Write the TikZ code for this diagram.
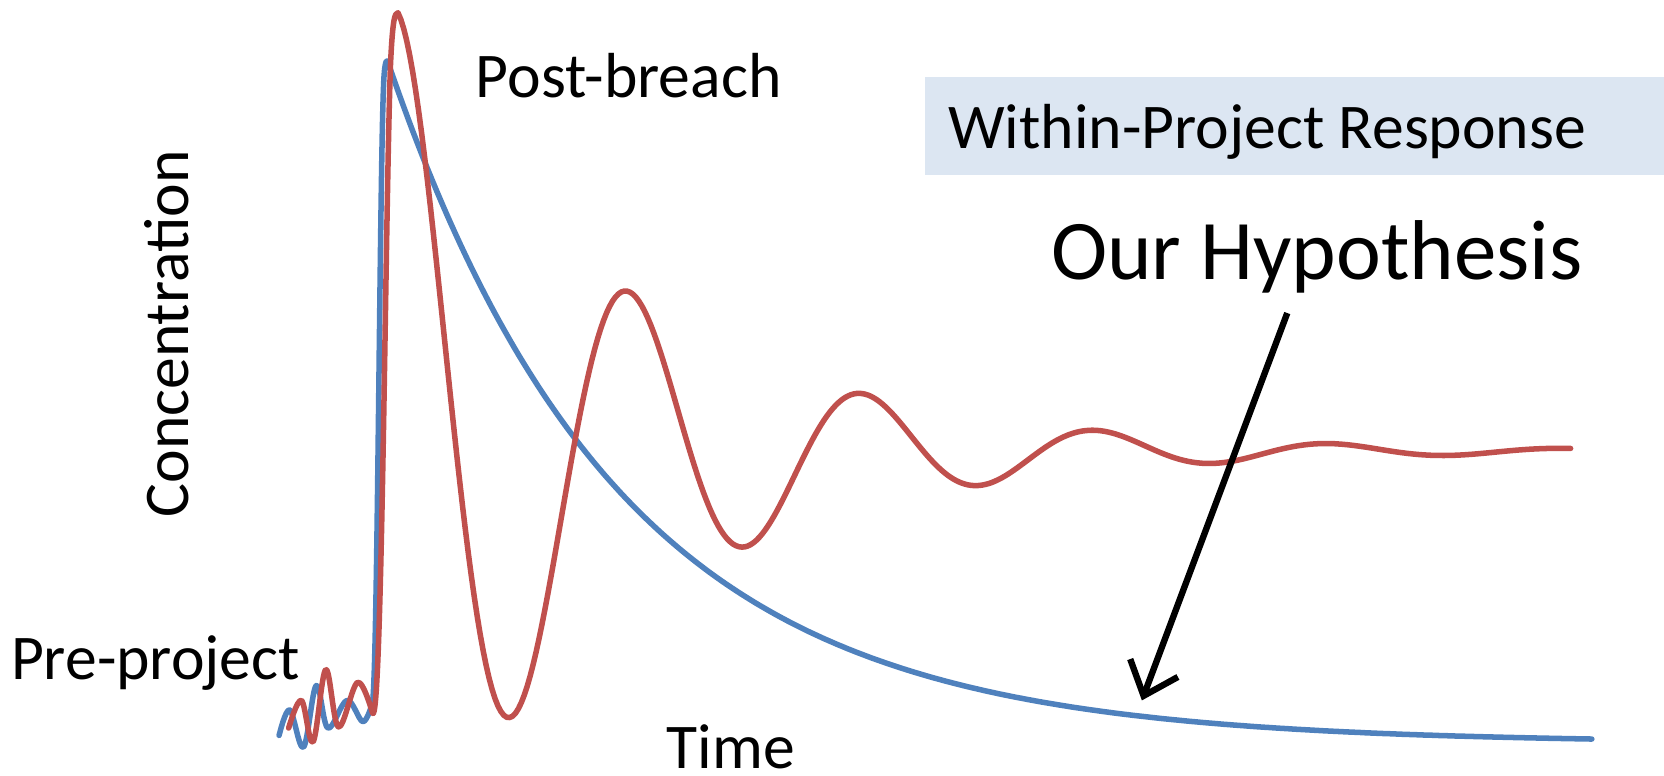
\documentclass[tikz,border=0pt]{standalone}
\usepackage{fontspec}
\setmainfont{Carlito}
\usetikzlibrary{arrows.meta}
\definecolor{curveblue}{HTML}{4F81BD}
\definecolor{curvered}{HTML}{C0504D}
\definecolor{boxblue}{HTML}{DCE6F2}
\tikzset{
  lbl/.style={font=\fontsize{30}{36}\selectfont, inner sep=0pt, anchor=base west},
  biglbl/.style={font=\fontsize{40}{48}\selectfont, inner sep=0pt, anchor=base west},
  curve/.style={line width=2.6pt, line join=round, line cap=round},
  hyparrow/.style={line width=3pt, -{Straight Barb[length=14pt, width=24pt, line width=3pt]}},
}
\begin{document}
\begin{tikzpicture}[x=0.5pt, y=-0.5pt]
  \useasboundingbox (0,0) rectangle (1568,731);

  % shaded title band
  \path[fill=boxblue] (872,73) rectangle (1568,165);
  \node[lbl] (resp) at (893,140) {Within-Project Response};

  % labels
  \node[lbl] (post) at (448,92) {Post-breach};
  \node[lbl] (pre) at (10,640) {Pre-project};
  \node[lbl] (time) at (628,724) {Time};
  \node[lbl, rotate=90] (conc) at (178,488) {Concentration};
  \node[biglbl] (hyp) at (990,263) {Our Hypothesis};

  % blue response: small wiggles, sharp jump, exponential decay
  \draw[curve, curveblue]
    plot[smooth, tension=0.6] coordinates {(263,693) (273,669) (286,704) (298,646) (309,686) (327,660) (342,680) (351,662)}
    .. controls (356,630) and (358,120) .. (362,70)
    .. controls (363,56) and (365,55) .. (366,60)
    -- plot[domain=366:1500, samples=250] (\x, {700-640*exp(-(\x-366)/219)});

  % red response: small wiggles, sharp jump, damped oscillation
  \draw[curve, curvered]
    plot[smooth, tension=0.6] coordinates {(272,686) (284,660) (295,699) (307,631) (319,685) (337,643) (351,672)}
    .. controls (360,690) and (363,200) .. (368,60)
    .. controls (370,18) and (372,12) .. (375,12)
    -- plot[domain=375:1480, samples=400] (\x, {425-413*exp(-(\x-375)*0.004644)*cos(1.636364*(\x-375))});

  % pointer to the hypothesis
  \coordinate (hypfrom) at (1213,295);
  \coordinate (hypto) at (1076,660);
  \draw[hyparrow] (hypfrom) -- (hypto);
\end{tikzpicture}
\end{document}
